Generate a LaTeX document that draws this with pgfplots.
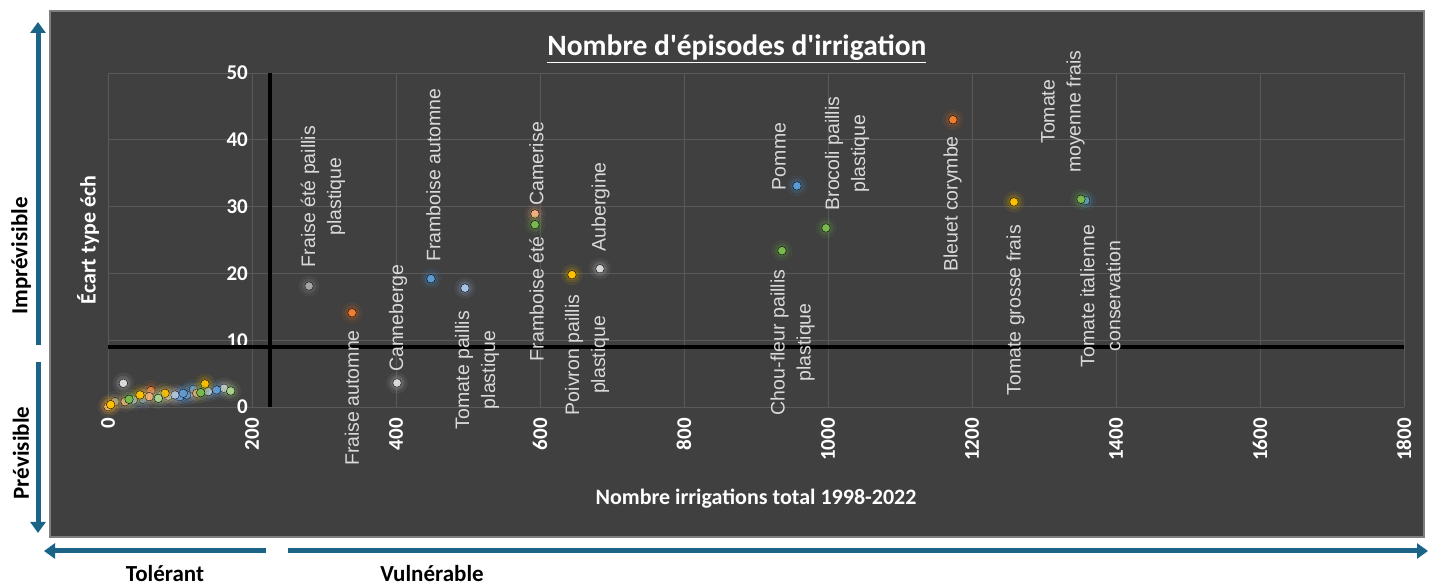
\documentclass[border=0pt]{standalone}
\usepackage{pgfplots}
\pgfplotsset{compat=1.18}
\usetikzlibrary{arrows.meta}
\usepackage{fontspec}
\setmainfont{Liberation Sans}
\newfontfamily\carlito{Carlito}
\definecolor{panel}{HTML}{404040}
\definecolor{panelborder}{HTML}{7F7F7F}
\definecolor{gridc}{HTML}{595959}
\definecolor{arrowc}{HTML}{1B6387}
\definecolor{lblc}{HTML}{D9D9D9}
\definecolor{cblue}{HTML}{5B9BD5}
\definecolor{corange}{HTML}{ED7D31}
\definecolor{cgray}{HTML}{A5A5A5}
\definecolor{cyellow}{HTML}{FFC000}
\definecolor{clblue}{HTML}{A9C4EB}
\definecolor{cgreen}{HTML}{78B84F}
\definecolor{clgreen}{HTML}{A9D18E}
\definecolor{cpeach}{HTML}{F4B183}
\definecolor{clgray}{HTML}{D9D9D9}
\tikzset{lbl/.style={rotate=90, align=center, text=lblc, font=\fontsize{19.5}{26}\selectfont, inner sep=0pt}}
\newcommand{\pts}[2]{%
  \addplot[only marks, mark=*, mark size=11pt, mark options={draw=none, fill=#1, opacity=0.07}] coordinates {#2};
  \addplot[only marks, mark=*, mark size=8pt, mark options={draw=none, fill=#1, opacity=0.12}] coordinates {#2};
  \addplot[only marks, mark=*, mark size=6pt, mark options={draw=none, fill=#1, opacity=0.15}] coordinates {#2};
  \addplot[only marks, mark=*, mark size=4.3pt, mark options={draw=none, fill=#1}] coordinates {#2};
}
\begin{document}
\begin{tikzpicture}
\useasboundingbox (0,0) rectangle (1432pt,585pt);
\fill[panel] (50pt,48pt) rectangle (1424pt,574pt);
\draw[panelborder, line width=1.5pt] (50pt,48pt) rectangle (1424pt,574pt);
% side arrows
\draw[arrowc, line width=5pt, -{Triangle[length=11pt,width=15pt]}] (38pt,240pt) -- (38pt,563pt);
\draw[arrowc, line width=5pt, -{Triangle[length=11pt,width=15pt]}] (38pt,223pt) -- (38pt,52pt);
\draw[arrowc, line width=5pt, -{Triangle[length=11pt,width=15pt]}] (266pt,34pt) -- (44pt,34pt);
\draw[arrowc, line width=5pt, -{Triangle[length=11pt,width=15pt]}] (288pt,34pt) -- (1428pt,34pt);
\node[rotate=90, font=\carlito\bfseries\fontsize{23}{26}\selectfont, text=black] at (21pt,329pt) {Imprévisible};
\node[rotate=90, font=\carlito\bfseries\fontsize{23}{26}\selectfont, text=black] at (21pt,132pt) {Prévisible};
\node[font=\carlito\bfseries\fontsize{23}{26}\selectfont, text=black] at (165pt,11pt) {Tolérant};
\node[font=\carlito\bfseries\fontsize{23}{26}\selectfont, text=black] at (432pt,11pt) {Vulnérable};
\begin{axis}[
  at={(108pt,178pt)}, anchor=south west,
  scale only axis, width=1296pt, height=334pt,
  xmin=0, xmax=1800, ymin=0, ymax=50,
  xtick={0,200,...,1800}, ytick={0,10,...,50},
  grid=major, major grid style={color=gridc, line width=0.9pt},
  axis line style={draw=none}, tick style={draw=none},
  clip=false,
  /pgf/number format/assume math mode=true,
  /pgf/number format/1000 sep={},
  ticklabel style={font=\carlito\bfseries\fontsize{21}{24}\selectfont, text=white},
  yticklabel style={anchor=east, inner sep=0pt, xshift=140pt},
  xticklabel style={rotate=90, anchor=east, inner sep=0pt},
  xticklabel shift=11pt,
  title={\underline{Nombre d'épisodes d'irrigation}},
  title style={at={(axis description cs:0.4853,1.033)}, anchor=base, font=\carlito\bfseries\fontsize{29.5}{34}\selectfont, text=white},
  xlabel={Nombre irrigations total 1998-2022},
  xlabel style={at={(axis description cs:0.5,-0.2754)}, anchor=center, font=\carlito\bfseries\fontsize{22}{26}\selectfont, text=white},
  ylabel={Écart type éch},
  ylabel style={at={(axis description cs:-0.0154,0.5)}, anchor=center, rotate=0, font=\carlito\bfseries\fontsize{22}{26}\selectfont, text=white},
]
\addplot[black, line width=3.5pt] coordinates {(225,0) (225,50)};
\addplot[black, line width=3.5pt] coordinates {(0,9) (1800,9)};

\pts{cgray}{(279.2,18.1) (9.7,0.8)}
\pts{corange}{(339,14.1) (1173.6,43.0) (95.4,1.65) (59.7,2.45)}
\pts{clgray}{(401.4,3.6) (683.3,20.7) (21.3,3.55) (51.4,1.55) (83.8,1.65) (114.8,2.05) (161.1,2.8)}
\pts{cblue}{(448.6,19.2) (956.9,33.1) (1357.9,30.9) (49,1.15) (100,1.55) (109.3,1.8) (104.6,2.05) (118.5,2.65) (150.9,2.55)}
\pts{clblue}{(495.8,17.8) (35.2,1.05) (74.5,1.8) (93,1.8) (139.3,2.3)}
\pts{cpeach}{(593,28.9) (0,0.05) (23.6,0.8) (57.4,1.55) (123.2,2.05)}
\pts{cyellow}{(644.4,19.8) (1258.3,30.7) (3.7,0.35) (44.4,1.8) (79.2,2.05) (134.7,3.45)}
\pts{clgreen}{(69.9,1.3) (170.4,2.4)}
\pts{cgreen}{(593,27.3) (936.1,23.4) (997.2,26.8) (1351.4,31.1) (29.2,1.15) (128.8,2.15)}

\node[lbl] at (axis cs:298.6,31.5) {Fraise été paillis\\plastique};
\node[lbl] at (axis cs:338.9,1.35) {Fraise automne};
\node[lbl] at (axis cs:402.8,13.3) {Canneberge};
\node[lbl] at (axis cs:452.1,34.7) {Framboise automne};
\node[lbl] at (axis cs:512.5,5.54) {Tomate paillis\\plastique};
\node[lbl] at (axis cs:595.1,16.2) {Framboise été};
\node[lbl] at (axis cs:595.1,36.4) {Camerise};
\node[lbl] at (axis cs:665.3,7.8) {Poivron paillis\\plastique};
\node[lbl] at (axis cs:684,30.0) {Aubergine};
\node[lbl] at (axis cs:950.7,9.66) {Chou-fleur paillis\\plastique};
\node[lbl] at (axis cs:932,37.5) {Pomme};
\node[lbl] at (axis cs:1026.4,37.95) {Brocoli paillis\\plastique};
\node[lbl] at (axis cs:1172.9,30.4) {Bleuet corymbe};
\node[lbl] at (axis cs:1260.7,14.5) {Tomate grosse frais};
\node[lbl] at (axis cs:1326.4,44.2) {Tomate\\moyenne frais};
\node[lbl] at (axis cs:1378.5,16.6) {Tomate italienne\\conservation};
\end{axis}
\end{tikzpicture}
\end{document}
